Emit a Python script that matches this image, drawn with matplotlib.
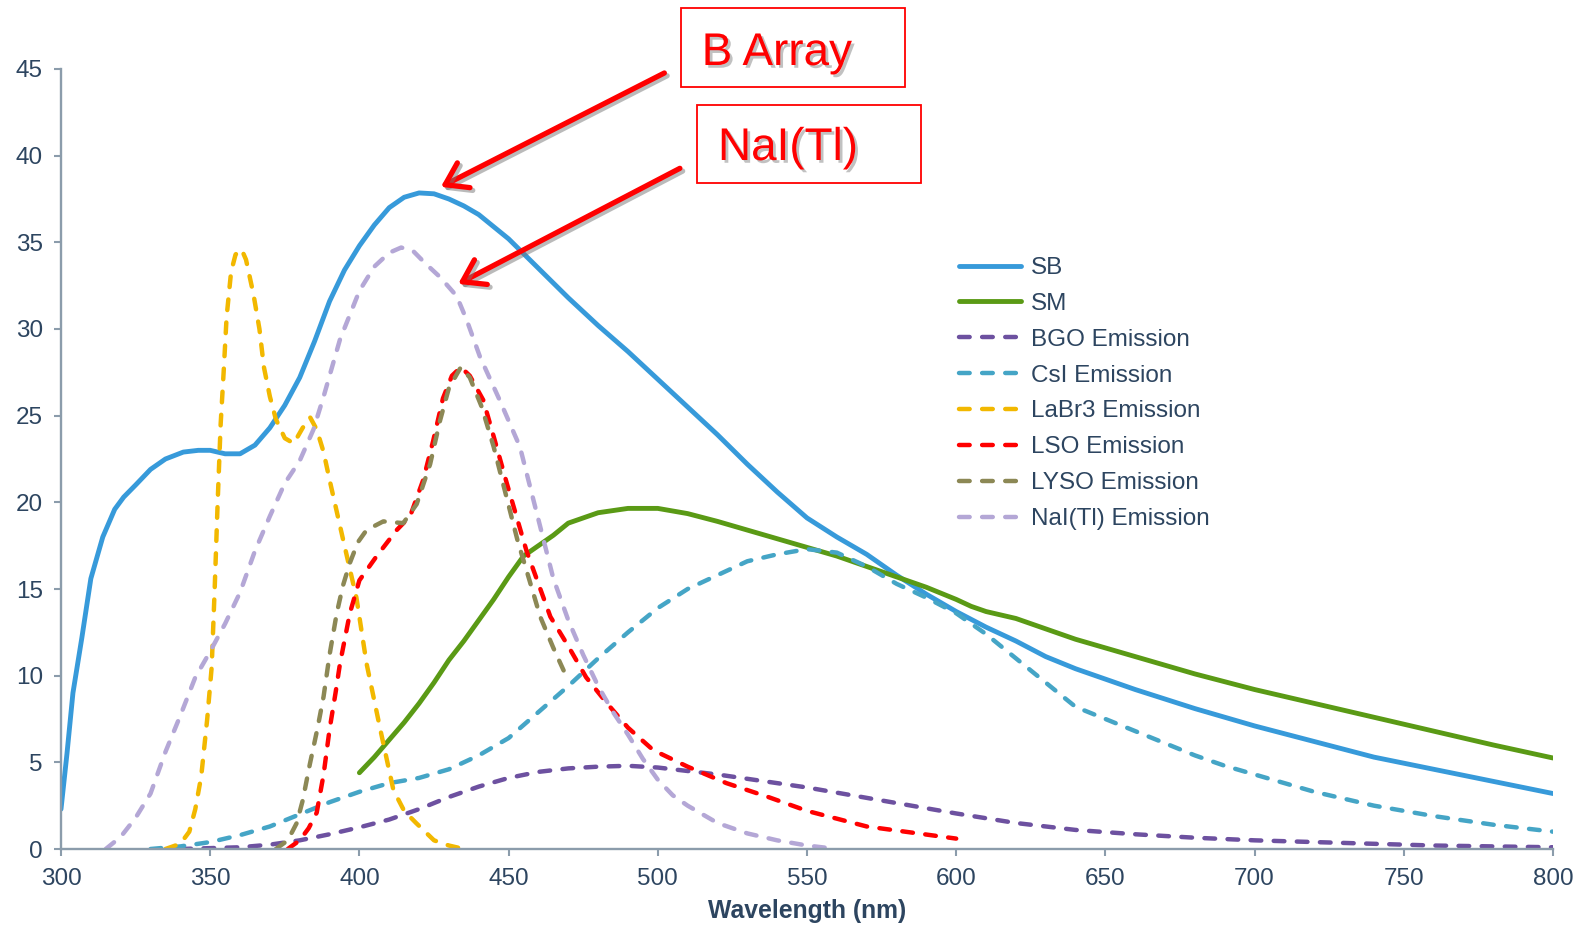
import matplotlib
matplotlib.use("Agg")
import matplotlib.pyplot as plt
import matplotlib.patheffects as pe
from matplotlib.patches import Rectangle

plt.rcParams["font.family"] = ["Liberation Sans", "DejaVu Sans"]

# ---- spectral data (wavelength in nm, relative response / emission) ----
sb_wl = [300, 302, 304, 307, 310, 314, 318, 321, 325, 330, 335, 341, 346, 350, 355,
         360, 365, 370, 375, 380, 385, 390, 395, 400, 405, 410, 415, 420, 425, 430,
         435, 440, 450, 460, 470, 480, 490, 500, 510, 520, 530, 540, 550, 560, 570,
         580, 590, 600, 610, 620, 630, 640, 660, 680, 700, 720, 740, 760, 780, 800]
sb_val = [2.3, 5.5, 9.0, 12.2, 15.6, 18.0, 19.6, 20.3, 21.0, 21.9, 22.5, 22.9, 23.0, 23.0, 22.8,
          22.8, 23.3, 24.3, 25.6, 27.2, 29.3, 31.6, 33.4, 34.8, 36.0, 37.0, 37.6, 37.85, 37.8, 37.5,
          37.1, 36.6, 35.2, 33.5, 31.8, 30.2, 28.7, 27.1, 25.5, 23.9, 22.2, 20.6, 19.1, 18.0, 17.0,
          15.8, 14.7, 13.7, 12.8, 12.0, 11.1, 10.4, 9.2, 8.1, 7.1, 6.2, 5.3, 4.6, 3.9, 3.2]

sm_wl = [400, 405, 410, 415, 420, 425, 430, 435, 440, 445, 450, 455, 460, 465, 470,
         475, 480, 490, 500, 510, 520, 530, 540, 550, 560, 570, 580, 590, 600, 605,
         610, 620, 640, 660, 680, 700, 720, 740, 760, 780, 800]
sm_val = [4.4, 5.3, 6.3, 7.3, 8.4, 9.6, 10.9, 12.0, 13.2, 14.4, 15.7, 16.9, 17.5, 18.1, 18.8,
          19.1, 19.4, 19.65, 19.65, 19.35, 18.9, 18.4, 17.9, 17.4, 16.9, 16.3, 15.7, 15.1, 14.4, 14.0,
          13.7, 13.3, 12.1, 11.1, 10.1, 9.2, 8.4, 7.6, 6.8, 6.0, 5.25]

bgo_wl = [340, 350, 360, 370, 380, 390, 400, 410, 420, 430, 440, 450, 460, 470, 480,
          490, 500, 510, 520, 530, 540, 550, 560, 580, 600, 620, 640, 660, 680, 700,
          720, 740, 760, 780, 800]
bgo_val = [0.0, 0.05, 0.1, 0.25, 0.5, 0.85, 1.25, 1.7, 2.3, 3.0, 3.6, 4.1, 4.45, 4.65, 4.75,
           4.8, 4.7, 4.5, 4.3, 4.05, 3.8, 3.55, 3.25, 2.65, 2.05, 1.5, 1.1, 0.85, 0.65, 0.5,
           0.4, 0.3, 0.2, 0.15, 0.1]

csi_wl = [330, 340, 350, 360, 370, 380, 390, 400, 410, 420, 430, 440, 450, 460, 470,
          480, 490, 500, 510, 520, 530, 540, 550, 560, 570, 580, 590, 600, 610, 620,
          630, 640, 650, 660, 670, 680, 690, 700, 720, 740, 760, 780, 800]
csi_val = [0.0, 0.15, 0.4, 0.8, 1.3, 2.0, 2.7, 3.3, 3.8, 4.1, 4.6, 5.4, 6.4, 7.9, 9.4,
           11.0, 12.5, 13.9, 15.0, 15.8, 16.6, 17.0, 17.3, 17.1, 16.3, 15.3, 14.5, 13.6, 12.4, 11.0,
           9.6, 8.2, 7.5, 6.8, 6.1, 5.4, 4.8, 4.3, 3.3, 2.5, 1.9, 1.4, 1.0]

labr_wl = [335, 340, 343, 345, 347, 349, 350.5, 351.5, 352.5, 353.5, 354.5, 355.5, 357, 358.5,
           360.5, 362, 364.5, 366.5, 368, 370, 372, 375, 378, 381, 383.5, 385.7, 388, 390,
           394.6, 399, 402.4, 407, 411.4, 415, 419, 425, 430, 435]
labr_val = [0.0, 0.3, 1.0, 2.3, 4.2, 7.5, 10.5, 15.0, 20.0, 24.5, 27.5, 30.7, 33.3, 34.3,
            34.6, 34.0, 32.0, 30.0, 27.8, 26.1, 24.8, 23.7, 23.4, 24.3, 24.9, 24.2, 22.9, 21.3,
            17.8, 14.5, 10.7, 6.9, 3.4, 2.2, 1.5, 0.5, 0.2, 0.0]

lso_wl = [376, 380, 383, 385.7, 388, 390, 392, 393.5, 396.8, 400, 405.8, 412.5, 417, 421.4,
          424.8, 428, 431, 434, 437, 441.5, 445, 449.4, 456, 464, 470, 476, 483, 490, 498.5,
          510, 523, 537, 550, 570, 585, 600]
lso_val = [0.0, 0.5, 1.2, 2.1, 4.3, 6.9, 9.0, 10.7, 13.6, 15.5, 16.9, 18.4, 19.2, 21.3,
           23.6, 26.0, 27.3, 27.8, 27.3, 25.9, 23.8, 21.1, 17.2, 13.4, 11.7, 9.9, 8.4, 7.0, 5.7,
           4.75, 3.8, 3.0, 2.2, 1.3, 0.95, 0.6]

lyso_wl = [372, 376, 379, 381, 383.4, 386, 388, 390, 392.4, 394.5, 396.8, 399.5, 402.4, 408,
           414.7, 419.2, 423.7, 427, 430, 434, 437, 441, 445, 449, 453, 457, 460.6, 465, 469.5]
lyso_val = [0.0, 0.5, 1.5, 2.8, 4.9, 7.0, 8.8, 11.2, 13.6, 15.2, 16.5, 17.7, 18.4, 18.9,
            18.8, 19.9, 22.2, 24.7, 26.6, 27.8, 27.2, 25.5, 23.2, 20.5, 17.8, 15.5, 13.4, 11.6, 9.9]

nai_wl = [315, 320, 325, 330, 335, 340, 345, 350, 355, 360, 365, 370, 375, 380, 384.6,
          388, 393.5, 400, 405, 410, 414, 418, 422, 427, 432.6, 436, 440.4, 447, 453.8, 460,
          465, 470, 475, 480, 485, 490, 495, 500, 505, 510, 515, 520, 530, 540, 550, 560]
nai_val = [0.0, 0.7, 1.8, 3.2, 5.6, 7.7, 9.9, 11.4, 13.0, 14.8, 17.2, 19.2, 21.1, 22.4, 24.2,
           26.1, 29.4, 32.2, 33.6, 34.4, 34.7, 34.5, 33.8, 33.0, 31.9, 30.5, 28.4, 25.9, 23.2, 19.0,
           15.6, 13.2, 11.2, 9.4, 7.9, 6.6, 5.2, 4.0, 3.1, 2.5, 2.0, 1.5, 0.9, 0.5, 0.2, 0.0]

series_labels = ["SB", "SM", "BGO Emission", "CsI Emission", "LaBr3 Emission",
                 "LSO Emission", "LYSO Emission", "NaI(Tl) Emission"]
x_ticks = [300, 350, 400, 450, 500, 550, 600, 650, 700, 750, 800]
y_ticks = [0, 5, 10, 15, 20, 25, 30, 35, 40, 45]

W, H = 1583, 927
fig = plt.figure(figsize=(W / 100, H / 100), dpi=100)
ax = fig.add_axes([61 / W, 78 / H, 1492 / W, 780 / H])

text_col = "#2d4560"
axis_col = "#8b9cab"

series = [
    (sb_wl, sb_val, "#379ada", "-"),
    (sm_wl, sm_val, "#5a9a15", "-"),
    (bgo_wl, bgo_val, "#6d51a0", "--"),
    (csi_wl, csi_val, "#45a5c6", "--"),
    (labr_wl, labr_val, "#f2b800", "--"),
    (lso_wl, lso_val, "#ff0000", "--"),
    (lyso_wl, lyso_val, "#8c8855", "--"),
    (nai_wl, nai_val, "#b4a7d6", "--"),
]

for (wl, val, col, ls), lab in zip(series, series_labels):
    if ls == "-":
        ax.plot(wl, val, color=col, lw=3.5, label=lab, solid_capstyle="round",
                solid_joinstyle="round")
    else:
        ax.plot(wl, val, color=col, lw=3.2, label=lab, dashes=(2.4, 2.8),
                dash_capstyle="round", dash_joinstyle="round")

ax.set_xlim(300, 800)
ax.set_ylim(0, 45)
ax.set_xticks(x_ticks)
ax.set_yticks(y_ticks)
for s in ("top", "right"):
    ax.spines[s].set_visible(False)
for s in ("left", "bottom"):
    ax.spines[s].set_color(axis_col)
    ax.spines[s].set_linewidth(1.7)
ax.tick_params(axis="both", direction="out", length=5, width=1.5, color=axis_col,
               labelsize=17.5, labelcolor=text_col)
ax.tick_params(axis="x", pad=9)
ax.tick_params(axis="y", pad=8)
ax.set_xlabel("Wavelength (nm)", fontsize=17.8, fontweight="bold", color=text_col, labelpad=6)

leg = ax.legend(loc="upper left", bbox_to_anchor=(959 / W, 1 - 257 / H),
                bbox_transform=fig.transFigure, frameon=False, fontsize=17.5,
                handlelength=2.55, handletextpad=0.42, labelspacing=0.57,
                borderpad=0, borderaxespad=0, labelcolor=text_col)

# callout boxes
shadow = [pe.withSimplePatchShadow(offset=(2, -2), shadow_rgbFace="#777777", alpha=0.45)]
for (x0, y0, x1, y1), (tx, ty), txt in [
    ((680.7, 8.3, 905, 86.7), (701.7, 65), "B Array"),
    ((696.7, 105, 920.7, 182.7), (718, 160), "NaI(Tl)"),
]:
    fig.add_artist(Rectangle((x0 / W, 1 - y1 / H), (x1 - x0) / W, (y1 - y0) / H,
                             transform=fig.transFigure, fill=False, ec="#ff0000", lw=1.3))
    fig.text(tx / W, 1 - ty / H, txt, fontsize=33, color="#ff0000", va="baseline",
             ha="left", path_effects=shadow)

arrow_fx = [pe.SimpleLineShadow(offset=(2, -2), shadow_color="#777777", alpha=0.5), pe.Normal()]
for tail, tip in [((502.2, 44.77), (427.3, 38.2)), ((507.4, 39.27), (433.1, 32.6))]:
    ax.annotate("", xy=tip, xytext=tail, annotation_clip=False,
                arrowprops=dict(arrowstyle="->,head_length=0.75,head_width=0.5",
                                color="#ff0000", lw=3.8, mutation_scale=20,
                                shrinkA=0, shrinkB=0, path_effects=arrow_fx))

fig.savefig("out.png", dpi=100)
